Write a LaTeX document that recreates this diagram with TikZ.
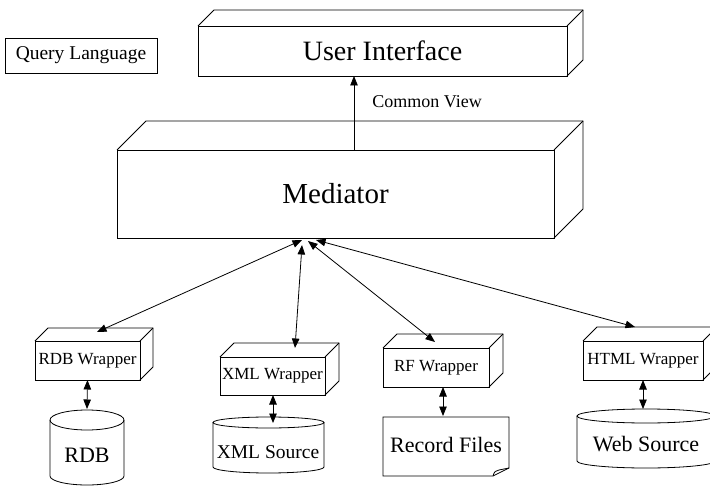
\documentclass[tikz,border=0pt]{standalone}
\usepackage{fontspec}
\setmainfont{Liberation Serif}
\usetikzlibrary{arrows.meta,calc}
\newcommand\depthfaces[2]{%
  \draw (#1.north west) -- ++(#2,-#2) -- ($(#1.north east)+(#2,-#2)$) -- ($(#1.south east)+(#2,-#2)$) -- (#1.south east);
  \draw (#1.north east) -- ++(#2,-#2);}
\begin{document}
\begin{tikzpicture}[x=1pt,y=-1pt,line width=0.8pt,
  face/.style={draw,rectangle,inner sep=0pt,outer sep=0pt,align=center},
  wrap/.style={face,minimum height=39pt,font=\fontsize{17}{19}\selectfont},
  lbl/.style={inner sep=0pt,font=\fontsize{22}{24}\selectfont},
  dbl/.style={{Triangle[length=9.5pt,width=7.5pt]}-{Triangle[length=9.5pt,width=7.5pt]}},
  single/.style={-{Triangle[length=9.5pt,width=7.5pt]}}]
\useasboundingbox (0,0) rectangle (710,487);
\clip (0,0) rectangle (710,487);

% top row
\node[face,minimum width=152pt,minimum height=35pt,font=\fontsize{19.5}{22}\selectfont] (ql) at (81,55.5) {Query Language};
\node[face,minimum width=369pt,minimum height=50pt,font=\fontsize{28}{30}\selectfont] (ui) at (382.5,51) {User Interface};
\depthfaces{ui}{16}

% mediator
\node[face,minimum width=437pt,minimum height=88pt,font=\fontsize{29}{32}\selectfont] (med) at (335.5,194) {Mediator};
\depthfaces{med}{29}

\coordinate (cvb) at (354,150);
\coordinate (cvt) at (354,76);
\draw[single] (cvb) -- (cvt);
\node[anchor=west,inner sep=0pt,font=\fontsize{18}{20}\selectfont] (cv) at (372,102) {Common View};

% wrappers
\node[wrap,minimum width=105pt] (rdbw) at (87.5,360.5) {RDB Wrapper};
\depthfaces{rdbw}{13}
\node[wrap,minimum width=105pt,minimum height=38pt] (xmlw) at (272.5,376) {XML Wrapper};
\depthfaces{xmlw}{14}
\node[wrap,minimum width=106pt] (rfw) at (436,367.5) {RF Wrapper};
\depthfaces{rfw}{14}
\node[wrap,minimum width=120pt] (htmlw) at (643,360.5) {HTML Wrapper};
\depthfaces{htmlw}{14}

% mediator connectors
\coordinate (m1) at (302,240);
\coordinate (m2) at (302,245);
\coordinate (m3) at (308,241);
\coordinate (m4) at (316,240);
\coordinate (w1) at (97,332);
\coordinate (w2) at (295,348);
\coordinate (w3) at (435,342);
\coordinate (w4) at (635,327);
\draw[dbl] (m1) -- (w1);
\draw[dbl] (m2) -- (w2);
\draw[dbl] (m3) -- (w3);
\draw[dbl] (m4) -- (w4);

% RDB cylinder
\draw (87,420) ellipse [x radius=37,y radius=10];
\draw (50,420) -- (50,476) arc[start angle=180,end angle=0,x radius=37,y radius=9] -- (124,420);
\node[lbl] (rdb) at (87,455) {RDB};
\coordinate (rdbtop) at (87,409);

% XML Source cylinder
\draw (268.5,422.5) ellipse [x radius=55.5,y radius=5.5];
\draw (213,422.5) -- (213,467) arc[start angle=180,end angle=0,x radius=55.5,y radius=6] -- (324,422.5);
\node[lbl,font=\fontsize{19.5}{22}\selectfont] (xmls) at (268,452) {XML Source};
\coordinate (xmltop) at (273,423);

% Record files
\draw (383,417) -- (509,417) -- (509,468) -- (493,476) -- (383,476) -- cycle;
\draw (493,476) .. controls (494,472) and (496,470) .. (499,470) -- (509,468);
\node[lbl] (recf) at (446,445) {Record Files};
\coordinate (rftop) at (443,416);

% Web Source cylinder
\draw (646,416) ellipse [x radius=69,y radius=7];
\draw (577,416) -- (577,461) arc[start angle=180,end angle=0,x radius=69,y radius=7] -- (715,416);
\node[lbl] (webs) at (646,444) {Web Source};
\coordinate (webtop) at (643,409);

% wrapper-source connectors
\draw[dbl] (rdbw.south) -- (rdbtop);
\draw[dbl] (xmlw.south -| xmltop) -- (xmltop);
\draw[dbl] (rfw.south -| rftop) -- (rftop);
\draw[dbl] (htmlw.south) -- (webtop);
\end{tikzpicture}
\end{document}
